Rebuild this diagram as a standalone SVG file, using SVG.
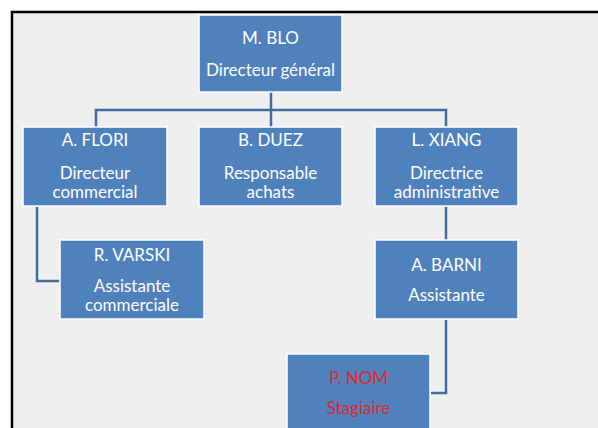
<svg xmlns="http://www.w3.org/2000/svg" width="598" height="428" viewBox="0 0 598 428">
<style>
.box{fill:#4f81bd;stroke:#ffffff;stroke-width:1.5}
.t{font-family:Lato,"Open Sans",sans-serif;font-size:17px;fill:#ffffff;text-anchor:middle}
.r{fill:#e0242c}
.c{fill:none;stroke:#3f6e9e;stroke-width:2.5}
</style>
<rect x="0" y="0" width="598" height="428" fill="#ffffff"/>
<rect x="12" y="12" width="600" height="430" fill="#eeeeee" stroke="#000000" stroke-width="2.5"/>
<g id="connectors">
<path class="c" d="M271,92 V110 M96,128 V110 H446 V128 M271,110 V128"/>
<path class="c" d="M37,207 V281 H60"/>
<path class="c" d="M446,207 V240"/>
<path class="c" d="M446,320 V393 H431"/>
</g>
<g id="n-blo"><rect class="box" x="199" y="15" width="143" height="77"/><text class="t" x="270.5" y="44">M. BLO</text><text class="t" x="270.5" y="76">Directeur général</text></g>
<g id="n-flori"><rect class="box" x="23" y="127" width="144" height="79"/><text class="t" x="95" y="146">A. FLORI</text><text class="t" x="95" y="179">Directeur</text><text class="t" x="95" y="198">commercial</text></g>
<g id="n-duez"><rect class="box" x="199" y="127" width="143" height="79"/><text class="t" x="270.5" y="146">B. DUEZ</text><text class="t" x="270.5" y="179">Responsable</text><text class="t" x="270.5" y="198">achats</text></g>
<g id="n-xiang"><rect class="box" x="375" y="127" width="143" height="79"/><text class="t" x="446.5" y="146">L. XIANG</text><text class="t" x="446.5" y="179">Directrice</text><text class="t" x="446.5" y="198">administrative</text></g>
<g id="n-varski"><rect class="box" x="60" y="240" width="144" height="79"/><text class="t" x="132" y="261">R. VARSKI</text><text class="t" x="132" y="292">Assistante</text><text class="t" x="132" y="311">commerciale</text></g>
<g id="n-barni"><rect class="box" x="375" y="240" width="143" height="79"/><text class="t" x="446.5" y="271">A. BARNI</text><text class="t" x="446.5" y="301">Assistante</text></g>
<g id="n-nom"><rect class="box" x="287" y="354" width="143" height="90"/><text class="t r" x="358.5" y="384">P. NOM</text><text class="t r" x="358.5" y="414">Stagiaire</text></g>
</svg>
